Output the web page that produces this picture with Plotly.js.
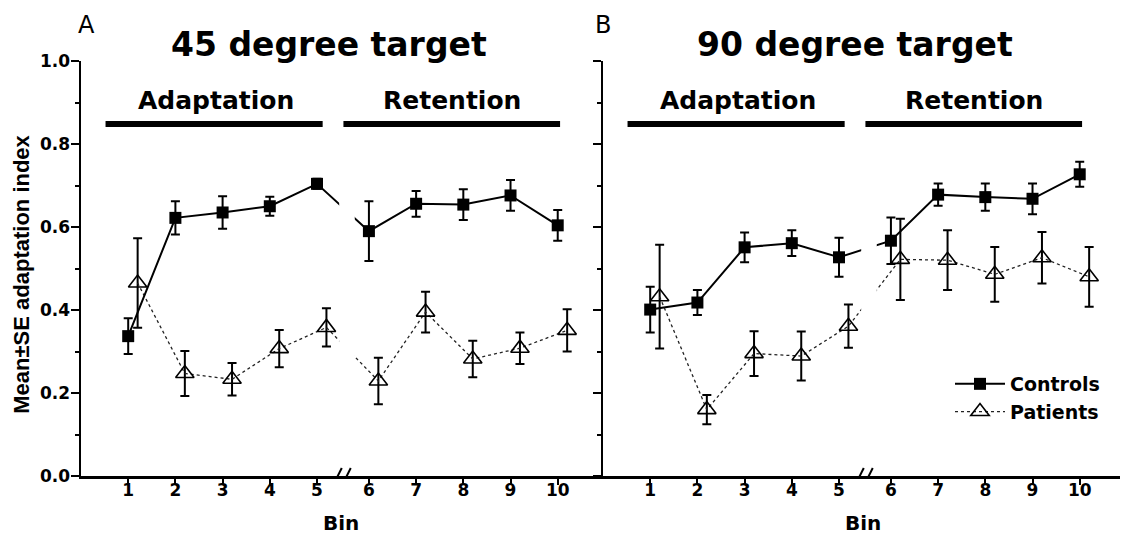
<!DOCTYPE html>
<html>
<head>
<meta charset="utf-8">
<script src="https://cdn.plot.ly/plotly-3.0.1.min.js"></script>
<style>
  html, body { margin: 0; padding: 0; background: #fff; }
  #chart { width: 1122px; height: 540px; }
</style>
</head>
<body>
<div id="chart"></div>
<script>
// ---------- data ----------
const bins = [1, 2, 3, 4, 5, 6, 7, 8, 9, 10];
const binLabels = ['1', '2', '3', '4', '5', '6', '7', '8', '9', '10'];
const seriesNames = ['Controls', 'Patients'];
const panelTitles = ['45 degree target', '90 degree target'];
const panelLetters = ['A', 'B'];
const phaseLabels = ['Adaptation', 'Retention'];
const yTickVals = [0.0, 0.2, 0.4, 0.6, 0.8, 1.0];

// 45 degree target
const controls45    = [0.337, 0.622, 0.635, 0.650, 0.704, 0.590, 0.656, 0.654, 0.676, 0.604];
const controls45Err = [0.043, 0.040, 0.039, 0.023, 0.012, 0.072, 0.031, 0.037, 0.037, 0.037];
const patients45    = [0.465, 0.247, 0.233, 0.307, 0.358, 0.229, 0.395, 0.282, 0.308, 0.351];
const patients45Err = [0.108, 0.054, 0.039, 0.045, 0.046, 0.056, 0.049, 0.044, 0.038, 0.051];

// 90 degree target
const controls90    = [0.401, 0.418, 0.551, 0.561, 0.527, 0.567, 0.678, 0.672, 0.668, 0.727];
const controls90Err = [0.055, 0.030, 0.036, 0.031, 0.047, 0.056, 0.027, 0.033, 0.037, 0.030];
const patients90    = [0.432, 0.160, 0.295, 0.289, 0.361, 0.522, 0.520, 0.486, 0.526, 0.480];
const patients90Err = [0.125, 0.035, 0.054, 0.059, 0.052, 0.098, 0.072, 0.066, 0.062, 0.072];

// ---------- layout helpers ----------
const BREAK_SHIFT = 0.1;      // extra room for the axis break between bins 5 and 6
const PATIENT_OFFSET = 0.2;   // patients drawn slightly to the right
const xPos = bins.map(b => b + (b > 5 ? BREAK_SHIFT : 0));
const xPosPat = xPos.map(v => v + PATIENT_OFFSET);

const BOLD = 'DejaVu Sans';
function f(size, weight) { return {family: BOLD, size: size, color: '#000', weight: weight || 'bold'}; }

function ctrlTrace(y, err, xa, ya, show) {
  return {
    x: xPos, y: y, xaxis: xa, yaxis: ya, name: seriesNames[0], showlegend: show,
    type: 'scatter', mode: 'lines+markers',
    line: {color: '#000', width: 2},
    marker: {symbol: 'square', size: 12, color: '#000'},
    error_y: {type: 'data', array: err, visible: true, color: '#000', thickness: 2, width: 4.5},
    cliponaxis: false
  };
}
function patTrace(y, err, xa, ya, show) {
  return {
    x: xPosPat, y: y, xaxis: xa, yaxis: ya, name: seriesNames[1], showlegend: show,
    type: 'scatter', mode: 'lines+markers',
    line: {color: '#222', width: 1.3, dash: 'dot'},
    marker: {symbol: 'triangle-up-open', size: 16, color: '#000', line: {width: 1.6, color: '#000'}},
    error_y: {type: 'data', array: err, visible: true, color: '#000', thickness: 2, width: 4.5},
    cliponaxis: false
  };
}

const data = [
  patTrace(patients45, patients45Err, 'x', 'y', false),
  ctrlTrace(controls45, controls45Err, 'x', 'y', false),
  ctrlTrace(controls90, controls90Err, 'x2', 'y2', true),
  patTrace(patients90, patients90Err, 'x2', 'y2', true)
];

const PX = 47.2;  // pixels per bin unit
const L = 81, R = 2, T = 61, B = 64, W = 1122, H = 540;
const plotW = W - L - R;
const splitPx = 603 - L;
const split = splitPx / plotW;

function xAxis(range, domain) {
  return {
    domain: domain, range: range, tickmode: 'array', tickvals: xPos, ticktext: binLabels,
    ticks: 'outside', ticklen: 6, tickwidth: 2, tickcolor: '#000', ticklabelstandoff: -9,
    showline: true, linewidth: 2.5, linecolor: '#000', showgrid: false, zeroline: false,
    tickfont: f(17), fixedrange: true
  };
}
function yAxis(showLabels, anchor) {
  return {
    range: [0, 1], tickmode: 'array', tickvals: yTickVals, tickformat: '.1f',
    showticklabels: showLabels, ticks: 'outside', ticklen: 8, tickwidth: 2, tickcolor: '#000',
    ticklabelstandoff: -3,
    minor: {dtick: 0.1, ticks: 'outside', ticklen: 4, tickwidth: 2, tickcolor: '#000'},
    showline: true, linewidth: 2.5, linecolor: '#000', showgrid: false, zeroline: false,
    tickfont: f(17), anchor: anchor, fixedrange: true
  };
}

const shapes = [];
const annotations = [];
[['x', 'y'], ['x2', 'y2']].forEach(([xa, ya], i) => {
  // gap in the connecting lines at the axis break
  shapes.push({type: 'rect', xref: xa, yref: ya, x0: 5.47, x1: 5.8, y0: 0.02, y1: 0.8,
               fillcolor: '#fff', line: {width: 0}, layer: 'above'});
  // break marks on the x axis
  [5.44, 5.63].forEach(c => shapes.push({
    type: 'line', xref: xa, yref: ya, xsizemode: 'pixel', xanchor: c, x0: -4, x1: 4,
    ysizemode: 'pixel', yanchor: 0, y0: -8, y1: 8, line: {color: '#000', width: 2}, layer: 'above'
  }));
  // phase bars
  shapes.push({type: 'line', xref: xa, yref: ya, x0: 0.52, x1: 5.12, y0: 0.848, y1: 0.848,
               line: {color: '#000', width: 6}});
  shapes.push({type: 'line', xref: xa, yref: ya, x0: 5.56, x1: 10.15, y0: 0.848, y1: 0.848,
               line: {color: '#000', width: 6}});
  annotations.push({xref: xa, yref: 'paper', x: 2.85, y: 0.904, text: phaseLabels[0], showarrow: false,
                    xanchor: 'center', yanchor: 'middle', font: f(25)});
  annotations.push({xref: xa, yref: 'paper', x: 7.86, y: 0.904, text: phaseLabels[1], showarrow: false,
                    xanchor: 'center', yanchor: 'middle', font: f(25)});
  annotations.push({xref: xa, yref: 'paper', x: i === 0 ? 5.25 : 5.33, y: 1.04, text: panelTitles[i],
                    showarrow: false, xanchor: 'center', yanchor: 'middle', font: f(33)});
  annotations.push({xref: xa, yref: 'paper', x: i === 0 ? 0.12 : 0.0, y: 1.087, text: panelLetters[i],
                    showarrow: false, xanchor: 'center', yanchor: 'middle', font: f(24, 'normal')});
  annotations.push({xref: xa, yref: 'paper', x: 5.5, y: -0.113, text: 'Bin', showarrow: false,
                    xanchor: 'center', yanchor: 'middle', font: f(20)});
});
annotations.push({xref: 'paper', yref: 'paper', x: (22 - L) / plotW, y: 0.485,
                  text: 'Mean±SE adaptation index', textangle: -90, showarrow: false,
                  xanchor: 'center', yanchor: 'middle',
                  font: {family: 'Liberation Sans', size: 22, color: '#000', weight: 'bold'}});

const layout = {
  width: W, height: H,
  margin: {l: L, r: R, t: T, b: B},
  paper_bgcolor: '#fff', plot_bgcolor: '#fff',
  showlegend: true,
  legend: {x: (950 - L) / plotW, xanchor: 'left', y: 0.188, yanchor: 'middle',
           font: f(19), bgcolor: 'rgba(0,0,0,0)', itemwidth: 50, borderwidth: 0},
  xaxis: xAxis([0, splitPx / PX], [0, split]),
  xaxis2: xAxis([0, (plotW - splitPx) / PX], [split, 1]),
  yaxis: yAxis(true, 'x'),
  yaxis2: yAxis(false, 'x2'),
  shapes: shapes,
  annotations: annotations
};

Plotly.newPlot('chart', data, layout, {displayModeBar: false, staticPlot: true});
</script>
</body>
</html>
